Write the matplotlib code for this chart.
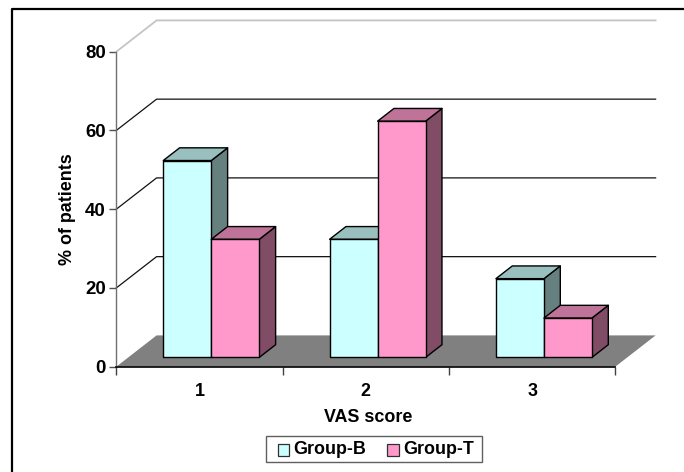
import matplotlib
matplotlib.use("Agg")
import matplotlib.pyplot as plt
from matplotlib.patches import Polygon, Rectangle
from matplotlib.transforms import IdentityTransform

plt.rcParams['font.family'] = ['Liberation Sans', 'DejaVu Sans']
plt.rcParams['font.weight'] = 'bold'

categories = ['1', '2', '3']
group_b = [50, 30, 20]
group_t = [30, 60, 10]
series_names = ['Group-B', 'Group-T']
y_ticks = [0, 20, 40, 60, 80]

W, H = 684, 472
fig = plt.figure(figsize=(W / 100, H / 100), dpi=100)
L, R, T, B = 116.3, 615.3, 51.7, 366.7
ax = fig.add_axes([L / W, 1 - B / H, (R - L) / W, (B - T) / H])
ax.set_xlim(0, len(categories))
ax.set_ylim(0, 80)
ax.patch.set_visible(False)

DX, DY = 40.3, 31.3  # oblique depth in pixels
PX = IdentityTransform()
n = len(categories)
FS = 12.9


def at(x, y, d=0.0):
    """Data point pushed back by depth fraction d, in display pixels."""
    px, py = ax.transData.transform((x, y))
    return (px + DX * d, py + DY * d)


def add_poly(pts, **kw):
    ax.add_patch(Polygon(pts, closed=True, transform=PX, clip_on=False, **kw))


# floor
add_poly([at(0, 0), at(n, 0), at(n, 0, 1), at(0, 0, 1)], fc='#808080', ec='none', zorder=1)

# gridlines: oblique side wall + back wall
for v in y_ticks[1:]:
    col = '#c4c4c4' if v == 80 else '#111111'
    lw = 1.3 if v == 80 else 0.9
    pts = [at(0, v), at(0, v, 1), at(n, v, 1)]
    ax.plot([p[0] for p in pts], [p[1] for p in pts], transform=PX,
            color=col, lw=lw, zorder=2, clip_on=False)

# bars
bar_w = 48 / (R - L) * n
margin = 35 / (R - L) * n
D0, D1 = 0.297, 0.703


def draw_bar(x0, v, front, top, side, z):
    x1 = x0 + bar_w
    kw = dict(ec='#000000', lw=1.0, zorder=z, joinstyle='round')
    add_poly([at(x1, 0, D0), at(x1, v, D0), at(x1, v, D1), at(x1, 0, D1)], fc=side, **kw)
    add_poly([at(x0, v, D0), at(x1, v, D0), at(x1, v, D1), at(x0, v, D1)], fc=top, **kw)
    add_poly([at(x0, 0, D0), at(x1, 0, D0), at(x1, v, D0), at(x0, v, D0)], fc=front, **kw)


for i in range(n):
    start = i + margin
    draw_bar(start, group_b[i], '#CCFFFF', '#99BFBF', '#668080', 3 + i * 2)
    draw_bar(start + bar_w, group_t[i], '#FF99CC', '#BF7399', '#804C66', 4 + i * 2)

# axes
for s in ('top', 'right'):
    ax.spines[s].set_visible(False)
ax.spines['left'].set_color('#707070')
ax.spines['left'].set_linewidth(1.0)
ax.spines['bottom'].set_color('#000000')
ax.spines['bottom'].set_linewidth(1.2)
ax.spines['left'].set_zorder(2.5)
ax.spines['bottom'].set_zorder(2.5)
ax.set_yticks(y_ticks)
ax.set_yticklabels([str(v) for v in y_ticks], fontsize=13.4, fontweight='bold')
ax.set_xticks(range(n + 1))
ax.set_xticklabels([''] * (n + 1))
ax.tick_params(axis='y', length=5, width=1, color='#505050', pad=2.5)
ax.tick_params(axis='x', length=6, width=1, color='#404040')
for i, c in enumerate(categories):
    ax.text(i + 0.5, -25 / (B - T), c, transform=ax.get_xaxis_transform(), ha='center', va='center',
            fontsize=FS, fontweight='bold')

fig.text(67.5 / W, 1 - 209 / H, '% of patients', rotation=90, ha='center', va='center',
         fontsize=FS, fontweight='bold')
fig.text(368 / W, 1 - 417 / H, 'VAS score', ha='center', va='center',
         fontsize=FS, fontweight='bold')

# legend box
fig.add_artist(Rectangle((265.7, H - 462.3), 216.3, 26.6, transform=PX, fc='white', ec='#606060', lw=1.0))
for x, c, name in [(277.7, '#CCFFFF', series_names[0]), (387, '#FF99CC', series_names[1])]:
    fig.add_artist(Rectangle((x, H - 456), 11.7, 11.7, transform=PX, fc=c, ec='#303030', lw=0.9))
    fig.text((x + 16) / W, 1 - 449.5 / H, name, ha='left', va='center', fontsize=FS, fontweight='bold')

# outer frame
fig.add_artist(plt.Line2D([12 / W, 12 / W, 1], [0, 1 - 9.3 / H, 1 - 9.3 / H], color='black', lw=1.6))

fig.savefig('out.png', dpi=100)
